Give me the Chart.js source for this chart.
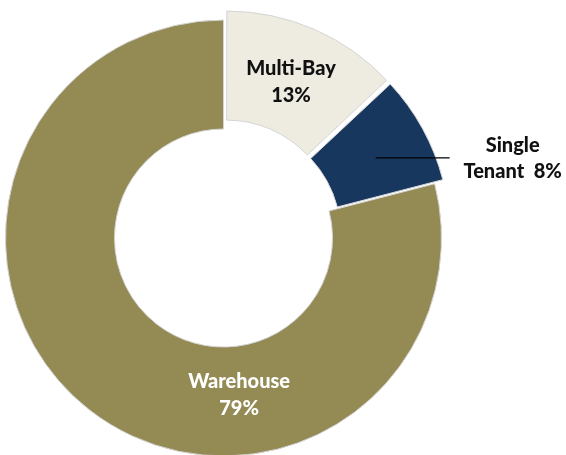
<!DOCTYPE html>
<html>
<head>
<meta charset="utf-8">
<script src="https://cdn.jsdelivr.net/npm/chart.js@4/dist/chart.umd.min.js"></script>
<style>
  html, body { margin: 0; padding: 0; background: #fff; overflow: hidden; }
  #wrap { position: relative; width: 566px; height: 455px; }
</style>
</head>
<body>
<div id="wrap"><canvas id="chart"></canvas></div>
<script>
// slice data, clockwise from 12 o'clock
const SEGMENTS = ["Multi-Bay", "Single Tenant", "Warehouse"];
const SHARES = [13, 8, 79];
const LABEL_LINES = [["Multi-Bay", "13%"], ["Single", "Tenant  8%"], ["Warehouse", "79%"]];

const COLORS = ["#EEECE1", "#17375E", "#948A54"];
const TEXT_COLORS = ["#111111", "#111111", "#ffffff"];

// label placement: angle shift from slice middle (deg) and distance from centre
const LABEL_PLACE = [
  { turn: 0, r: 170 },
  { turn: 1, r: 172, leader: 74 },
  { turn: -43.5, r: 157 },
];

const deg = Math.PI / 180;

const sliceLabels = {
  id: "sliceLabels",
  afterDatasetsDraw(chart) {
    const ctx = chart.ctx;
    const meta = chart.getDatasetMeta(0);
    ctx.save();
    ctx.font = "900 20px Lato";
    ctx.textBaseline = "middle";
    ctx.textAlign = "center";
    meta.data.forEach((arc, i) => {
      const p = LABEL_PLACE[i];
      const a = (arc.startAngle + arc.endAngle) / 2 + p.turn * deg;
      const x = arc.x + Math.cos(a) * p.r;
      const y = arc.y + Math.sin(a) * p.r;
      const lines = LABEL_LINES[i];
      ctx.fillStyle = TEXT_COLORS[i];
      if (p.leader) {
        ctx.strokeStyle = "#000";
        ctx.lineWidth = 1.3;
        ctx.beginPath();
        ctx.moveTo(x, y);
        ctx.lineTo(x + p.leader, y);
        ctx.stroke();
        const tx = x + p.leader + 63;
        ctx.fillText(lines[0], tx, y - 12);
        ctx.fillText(lines[1], tx, y + 14);
      } else {
        ctx.fillText(lines[0], x, y - 13);
        ctx.fillText(lines[1], x, y + 14);
      }
    });
    ctx.restore();
  },
};

new Chart(document.getElementById("chart"), {
  type: "doughnut",
  data: {
    labels: SEGMENTS,
    datasets: [{
      data: SHARES,
      backgroundColor: COLORS,
      borderColor: "#d4d4d4",
      borderWidth: 1,
      offset: [30, 24, 0],
    }],
  },
  options: {
    responsive: true,
    maintainAspectRatio: false,
    animation: false,
    radius: 218,
    cutout: "50%",
    layout: { padding: { left: 0, right: 119, top: 21, bottom: 0 } },
    plugins: { legend: { display: false }, tooltip: { enabled: false } },
  },
  plugins: [sliceLabels],
});
</script>
</body>
</html>
